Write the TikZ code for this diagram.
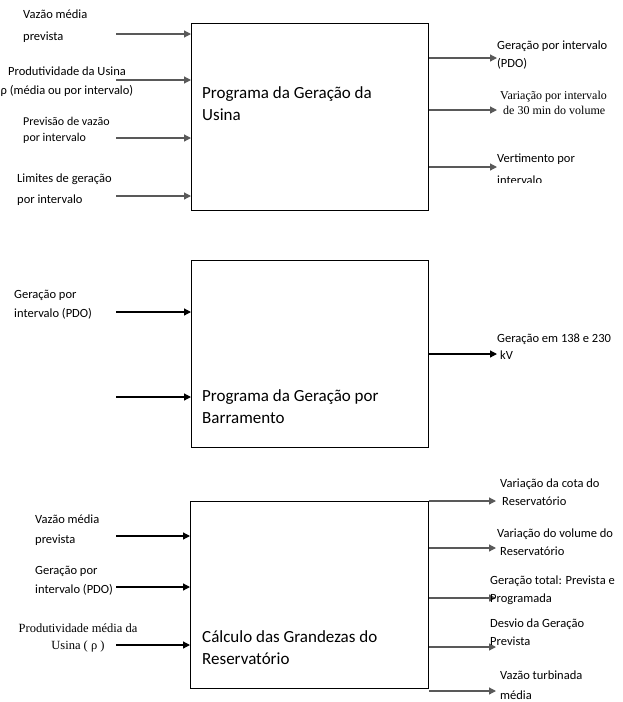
\documentclass[tikz,border=0pt]{standalone}
\usepackage{fontspec}
\setmainfont{Carlito}
\newfontfamily\tnr{Liberation Serif}
\usetikzlibrary{arrows.meta}
\begin{document}
\begin{tikzpicture}[x=1pt,y=-1pt,
        arr/.style={-{Triangle[length=7pt,width=7pt]}, line width=1.2pt},
        gr/.style={draw=black!65},
        bloco/.style={draw=black, line width=0.8pt, anchor=north west, inner sep=0pt},
        lbl/.style={anchor=north west, inner sep=0pt, align=left, font=\fontsize{12.5}{19}\selectfont},
        ttl/.style={anchor=north west, inner sep=0pt, align=left, font=\fontsize{17}{22}\selectfont}]
        \useasboundingbox (0,0) rectangle (622,702);

        \node[bloco, minimum width=237pt, minimum height=187pt] (usina) at (191,23) {};
        \node[bloco, minimum width=237pt, minimum height=187pt] (barra) at (191,260) {};
        \node[bloco, minimum width=238pt, minimum height=187pt] (reserv) at (190,501) {};

        \node[ttl] (tusina) at (202,86) {Programa da Geração da\\Usina};
        \node[ttl] (tbarra) at (202,389) {Programa da Geração por\\Barramento};
        \node[ttl] (treserv) at (202,630) {Cálculo das Grandezas do\\Reservatório};

        \foreach \y [count=\i] in {34,80,138,196} {
                \coordinate (ua\i) at (116,\y);
                \draw [arr, gr] (ua\i) -- (ua\i -| usina.west);
        }
        \foreach \y [count=\i] in {58,110,167} {
                \coordinate (ub\i) at (497,\y);
                \draw [arr, gr] (ub\i -| usina.east) -- (ub\i);
        }
        \foreach \y [count=\i] in {312,397} {
                \coordinate (ba\i) at (116,\y);
                \draw [arr] (ba\i) -- (ba\i -| barra.west);
        }
        \coordinate (bb1) at (497,354);
        \draw [arr] (bb1 -| barra.east) -- (bb1);
        \foreach \y [count=\i] in {536,587,645} {
                \coordinate (ra\i) at (116,\y);
                \draw [arr] (ra\i) -- (ra\i -| reserv.west);
        }
        \foreach \y [count=\i] in {501,548,598,647,691} {
                \coordinate (rb\i) at (496,\y);
                \draw [arr, gr] (rb\i -| reserv.east) -- (rb\i);
        }

        \node[lbl, font=\fontsize{12.5}{22}\selectfont] (vazao1) at (23,10) {Vazão média\\prevista};
        \node[lbl, align=center, anchor=north] (prod1) at (67,67) {Produtividade da Usina\\ρ (média ou por intervalo)};
        \node[lbl, font=\fontsize{12}{16}\selectfont] (prev1) at (23,117) {Previsão de vazão\\por intervalo};
        \node[lbl, font=\fontsize{12.5}{21}\selectfont] (lim1) at (17,174) {Limites de geração\\por intervalo};
        \node[lbl, font=\fontsize{12.5}{18}\selectfont] (ger1) at (497,41) {Geração por intervalo\\(PDO)};
        \node[lbl, font=\tnr\fontsize{12}{15}\selectfont] (var1) at (500,91) {Variação por intervalo\\\hspace{3pt}de 30 min do volume};
        \begin{scope}
                \clip (480,140) rectangle (622,182);
                \node[lbl, font=\fontsize{12.5}{22}\selectfont] (vert1) at (497,154) {Vertimento por\\intervalo};
        \end{scope}

        \node[lbl] (ger2) at (14,290) {Geração por\\intervalo (PDO)};
        \node[lbl, font=\fontsize{12.5}{17}\selectfont] (g230) at (497,334) {Geração em 138 e 230\\\hspace{3pt}kV};

        \node[lbl, font=\fontsize{12.5}{20}\selectfont] (vazao3) at (35,515) {Vazão média\\prevista};
        \node[lbl] (ger3) at (35,566) {Geração por\\intervalo (PDO)};
        \node[lbl, align=center, anchor=north, font=\tnr\fontsize{12.5}{17}\selectfont] (prod3) at (78,624) {Produtividade média da\\Usina ( ρ )};
        \node[lbl, font=\fontsize{12.5}{18}\selectfont] (cota) at (500,479) {Variação da cota do\\\hspace{2pt}Reservatório};
        \node[lbl, font=\fontsize{12.5}{18}\selectfont] (vol) at (497,529) {Variação do volume do\\\hspace{3pt}Reservatório};
        \node[lbl, font=\fontsize{12.5}{18}\selectfont] (gtot) at (490,576) {Geração total: Prevista e\\Programada};
        \node[lbl, font=\fontsize{12.5}{18}\selectfont] (desv) at (490,619) {Desvio da Geração\\Prevista};
        \node[lbl, font=\fontsize{12.5}{20}\selectfont] (vtur) at (500,671) {Vazão turbinada\\média};
\end{tikzpicture}
\end{document}
